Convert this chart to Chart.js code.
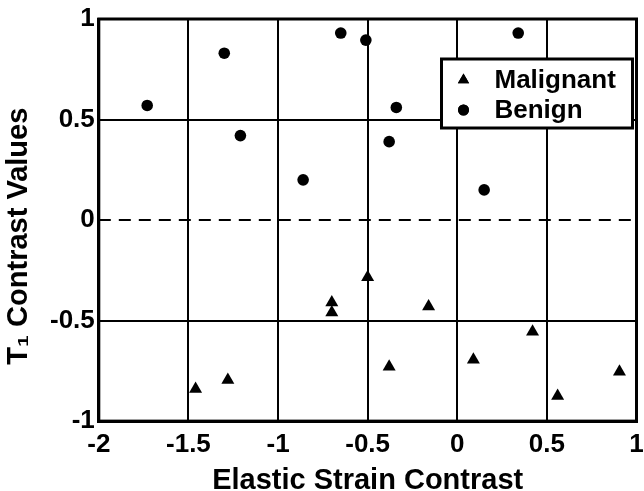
<!DOCTYPE html>
<html>
<head>
<meta charset="utf-8">
<script src="https://cdn.jsdelivr.net/npm/chart.js@4/dist/chart.umd.min.js"></script>
<style>
html,body{margin:0;padding:0;background:#fff;}
#wrap{width:644px;height:491px;}
</style>
</head>
<body>
<div id="wrap"><canvas id="c" width="644" height="491"></canvas></div>
<script>
const seriesNames = ["Malignant", "Benign"];
const malignantX = [-1.46, -1.28, -0.70, -0.70, -0.50, -0.16, -0.38, 0.09, 0.42, 0.56, 0.905];
const malignantY = [-0.84, -0.795, -0.41, -0.46, -0.285, -0.43, -0.73, -0.695, -0.555, -0.875, -0.755];
const benignX = [-1.73, -1.30, -1.21, -0.86, -0.65, -0.51, -0.34, -0.38, 0.15, 0.34];
const benignY = [0.57, 0.83, 0.42, 0.20, 0.93, 0.895, 0.56, 0.39, 0.15, 0.93];
const xTicks = [-2, -1.5, -1, -0.5, 0, 0.5, 1];
const yTicks = [-1, -0.5, 0, 0.5, 1];
const xTitle = "Elastic Strain Contrast";
const yTitle = "T\u2081 Contrast Values    ";

const FONT = "'Liberation Sans', Arial, Helvetica, sans-serif";

function pts(xs, ys){ return xs.map((x,i)=>({x:x, y:ys[i]})); }

const framePlugin = {
  id: 'frame',
  beforeDatasetsDraw(chart){
    const ctx = chart.ctx, a = chart.chartArea, ys = chart.scales.y;
    const y0 = ys.getPixelForValue(0);
    ctx.save();
    ctx.strokeStyle = '#000';
    ctx.lineWidth = 2;
    ctx.setLineDash([12, 8]);
    ctx.beginPath();
    ctx.moveTo(a.left, y0);
    ctx.lineTo(a.right, y0);
    ctx.stroke();
    ctx.setLineDash([]);
    ctx.lineWidth = 3;
    ctx.strokeRect(a.left, a.top, a.right - a.left, a.bottom - a.top);
    ctx.restore();
  },
  afterDatasetsDraw(chart){
    const ctx = chart.ctx, a = chart.chartArea;
    const w = 191, h = 69;
    const bx = a.right - 4 - w, by = a.top + 40;
    ctx.save();
    ctx.fillStyle = '#fff';
    ctx.fillRect(bx, by, w, h);
    ctx.strokeStyle = '#000';
    ctx.lineWidth = 3;
    ctx.strokeRect(bx, by, w, h);
    ctx.fillStyle = '#000';
    ctx.font = "bold 26px " + FONT;
    ctx.textBaseline = 'middle';
    ctx.textAlign = 'left';
    chart.data.datasets.forEach((ds, i) => {
      const cy = by + 21 + i * 30;
      Chart.helpers.drawPoint(ctx, {pointStyle: ds.pointStyle, radius: ds.pointStyle === 'triangle' ? 6.5 : 5.5, rotation: 0, borderWidth: 0}, bx + 22, cy);
      ctx.fillStyle = '#000';
      ctx.fill();
      ctx.fillText(ds.label, bx + 53, cy + 1);
    });
    ctx.restore();
  }
};

new Chart(document.getElementById('c'), {
  type: 'scatter',
  data: {
    datasets: [
      { label: seriesNames[0], data: pts(malignantX, malignantY), pointStyle: 'triangle',
        pointRadius: 7.5, backgroundColor: '#000', borderColor: '#000', borderWidth: 0 },
      { label: seriesNames[1], data: pts(benignX, benignY), pointStyle: 'circle',
        pointRadius: 5.8, backgroundColor: '#000', borderColor: '#000', borderWidth: 0 }
    ]
  },
  options: {
    responsive: false,
    animation: false,
    devicePixelRatio: 1,
    layout: { padding: { top: 19, left: 4, right: 4, bottom: 0 } },
    plugins: { legend: { display: false }, tooltip: { enabled: false } },
    scales: {
      x: {
        type: 'linear', min: -2, max: 1,
        afterBuildTicks(s){ s.ticks = xTicks.map(v => ({value: v})); },
        afterFit(s){ s.paddingRight = 0; },
        ticks: { color: '#000', padding: 11, maxRotation: 0, font: { family: FONT, size: 26, weight: 'bold', lineHeight: 1 },
                 callback: v => String(v) },
        grid: { color: '#000', lineWidth: 2, drawTicks: false },
        border: { color: '#000', width: 3 },
        title: { display: true, text: xTitle, color: '#000', padding: { top: 1, bottom: 0 },
                 font: { family: FONT, size: 29, weight: 'bold', lineHeight: 0.72 } }
      },
      y: {
        type: 'linear', min: -1, max: 1,
        afterBuildTicks(s){ s.ticks = yTicks.map(v => ({value: v})); },
        ticks: { color: '#000', padding: 4, font: { family: FONT, size: 26, weight: 'bold', lineHeight: 1 },
                 callback: v => String(v) },
        grid: { color: ctx => (ctx.tick && ctx.tick.value === 0) ? 'rgba(0,0,0,0)' : '#000', lineWidth: 2, drawTicks: false },
        border: { color: '#000', width: 3 },
        title: { display: true, text: yTitle, color: '#000', padding: { top: 0, bottom: 13 },
                 font: { family: FONT, size: 29, weight: 'bold', lineHeight: 1 } }
      }
    }
  },
  plugins: [framePlugin]
});
</script>
</body>
</html>
